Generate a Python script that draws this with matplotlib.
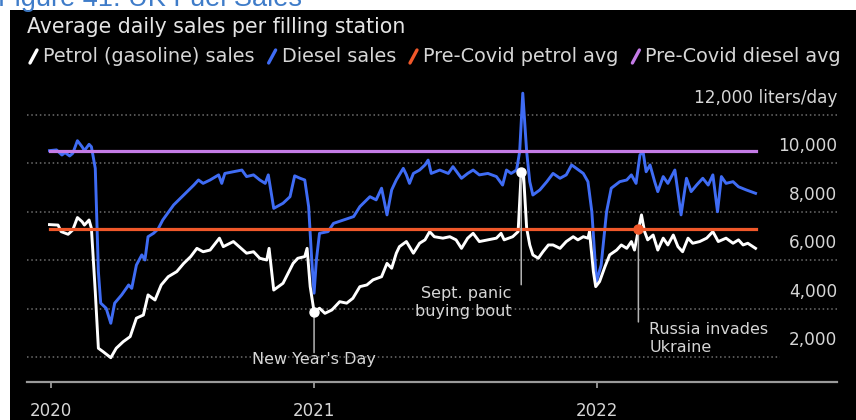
import matplotlib
matplotlib.use("Agg")
import matplotlib.pyplot as plt
import matplotlib.transforms as mtransforms
from matplotlib.lines import Line2D
from matplotlib.patches import Rectangle
import pandas as pd

# ---------------- data ----------------
diesel_dates = [
    "2020-01-26", "2020-02-04", "2020-02-11", "2020-02-15", "2020-02-21", "2020-02-25",
    "2020-03-02", "2020-03-08", "2020-03-11", "2020-03-17", "2020-03-20", "2020-03-25",
    "2020-03-29", "2020-04-01", "2020-04-08", "2020-04-14", "2020-04-19", "2020-04-28",
    "2020-05-07", "2020-05-11", "2020-05-17", "2020-05-24", "2020-05-28", "2020-06-01",
    "2020-06-08", "2020-06-14", "2020-06-20", "2020-07-04", "2020-07-17", "2020-07-30",
    "2020-08-05", "2020-08-11", "2020-08-20", "2020-08-31", "2020-09-04", "2020-09-08",
    "2020-09-19", "2020-09-30", "2020-10-06", "2020-10-15", "2020-10-23", "2020-10-30",
    "2020-11-03", "2020-11-10", "2020-11-22", "2020-12-01", "2020-12-07", "2020-12-14",
    "2020-12-20", "2020-12-25", "2020-12-29", "2021-01-01", "2021-01-04", "2021-01-08",
    "2021-01-19", "2021-01-26", "2021-02-08", "2021-02-21", "2021-03-01", "2021-03-14",
    "2021-03-22", "2021-03-29", "2021-04-05", "2021-04-11", "2021-04-17", "2021-04-26",
    "2021-04-30", "2021-05-04", "2021-05-09", "2021-05-17", "2021-05-24", "2021-05-28",
    "2021-06-01", "2021-06-12", "2021-06-23", "2021-06-29", "2021-07-10", "2021-07-18",
    "2021-07-25", "2021-08-02", "2021-08-13", "2021-08-24", "2021-09-01", "2021-09-06",
    "2021-09-12", "2021-09-19", "2021-09-23", "2021-09-27", "2021-10-02", "2021-10-06",
    "2021-10-10", "2021-10-19", "2021-10-28", "2021-11-05", "2021-11-14", "2021-11-22",
    "2021-11-29", "2021-12-05", "2021-12-14", "2021-12-20", "2021-12-25", "2021-12-31",
    "2022-01-06", "2022-01-13", "2022-01-19", "2022-01-30", "2022-02-08", "2022-02-14",
    "2022-02-20", "2022-02-25", "2022-03-01", "2022-03-05", "2022-03-10", "2022-03-16",
    "2022-03-20", "2022-03-27", "2022-04-02", "2022-04-11", "2022-04-19", "2022-04-26",
    "2022-05-02", "2022-05-09", "2022-05-17", "2022-05-24", "2022-05-30", "2022-06-05",
    "2022-06-10", "2022-06-16", "2022-06-25", "2022-07-02", "2022-07-12", "2022-07-24",
]
diesel_values = [
    10530, 10560, 10350, 10450, 10310, 10420,
    10940, 10690, 10530, 10790, 10690, 9800,
    5540, 4240, 4030, 3410, 4240, 4580,
    4990, 4850, 5810, 6230, 6020, 6980,
    7120, 7300, 7670, 8290, 8700, 9110,
    9320, 9180, 9320, 9530, 9180, 9590,
    9660, 9730, 9460, 9530, 9320, 9180,
    9530, 8150, 8360, 8630, 9490, 9390,
    9320, 8220, 6020, 4650, 6020, 7120,
    7190, 7530, 7670, 7810, 8220, 8630,
    8500, 8980, 7880, 8910, 9320, 9800,
    9530, 9180, 9590, 9730, 9940, 10140,
    9590, 9730, 9590, 9870, 9390, 9590,
    9730, 9530, 9590, 9460, 9110, 9730,
    9590, 9730, 10490, 12900, 10490, 9250,
    8700, 8910, 9250, 9590, 9390, 9530,
    9940, 9800, 9590, 9250, 8010, 5130,
    5810, 8010, 8980, 9250, 9320, 9530,
    9180, 10350, 10490, 9660, 9940, 9250,
    8840, 9460, 9180, 9730, 7880, 9390,
    8840, 9110, 9390, 9110, 9530, 8010,
    9460, 9180, 9250, 9040, 8910, 8770,
]

petrol_dates = [
    "2020-01-26", "2020-02-06", "2020-02-10", "2020-02-19", "2020-02-25", "2020-03-02",
    "2020-03-08", "2020-03-11", "2020-03-17", "2020-03-20", "2020-03-25", "2020-03-29",
    "2020-04-04", "2020-04-14", "2020-04-21", "2020-04-30", "2020-05-09", "2020-05-17",
    "2020-05-26", "2020-06-01", "2020-06-10", "2020-06-18", "2020-06-27", "2020-07-08",
    "2020-07-17", "2020-07-26", "2020-08-03", "2020-08-11", "2020-08-20", "2020-09-01",
    "2020-09-06", "2020-09-19", "2020-10-06", "2020-10-15", "2020-10-23", "2020-11-01",
    "2020-11-04", "2020-11-10", "2020-11-22", "2020-12-05", "2020-12-11", "2020-12-20",
    "2020-12-23", "2020-12-27", "2021-01-01", "2021-01-08", "2021-01-15", "2021-01-24",
    "2021-02-03", "2021-02-12", "2021-02-20", "2021-03-01", "2021-03-10", "2021-03-18",
    "2021-03-29", "2021-04-05", "2021-04-11", "2021-04-17", "2021-04-21", "2021-04-30",
    "2021-05-09", "2021-05-17", "2021-05-24", "2021-05-30", "2021-06-05", "2021-06-16",
    "2021-06-25", "2021-07-03", "2021-07-10", "2021-07-18", "2021-07-25", "2021-08-02",
    "2021-08-13", "2021-08-24", "2021-08-30", "2021-09-03", "2021-09-14", "2021-09-21",
    "2021-09-25", "2021-09-28", "2021-10-02", "2021-10-06", "2021-10-10", "2021-10-17",
    "2021-10-23", "2021-10-30", "2021-11-05", "2021-11-14", "2021-11-22", "2021-12-01",
    "2021-12-07", "2021-12-14", "2021-12-20", "2021-12-22", "2021-12-27", "2021-12-30",
    "2022-01-04", "2022-01-11", "2022-01-17", "2022-01-26", "2022-02-01", "2022-02-08",
    "2022-02-14", "2022-02-18", "2022-02-23", "2022-02-27", "2022-03-03", "2022-03-07",
    "2022-03-14", "2022-03-20", "2022-03-27", "2022-04-02", "2022-04-09", "2022-04-15",
    "2022-04-21", "2022-04-28", "2022-05-04", "2022-05-13", "2022-05-22", "2022-05-30",
    "2022-06-06", "2022-06-16", "2022-06-25", "2022-07-02", "2022-07-08", "2022-07-14",
    "2022-07-24",
]
petrol_values = [
    7480, 7460, 7190, 7080, 7260, 7770,
    7600, 7460, 7670, 7330, 4710, 2380,
    2240, 1990, 2380, 2650, 2860, 3620,
    3750, 4580, 4370, 4990, 5330, 5540,
    5880, 6160, 6500, 6360, 6430, 6920,
    6570, 6780, 6300, 6360, 6090, 6020,
    6500, 4780, 5060, 5880, 6090, 6160,
    6500, 4920, 3890, 4030, 3820, 3960,
    4300, 4240, 4440, 4920, 4990, 5200,
    5330, 5880, 5680, 6300, 6570, 6780,
    6300, 6710, 6850, 7190, 6980, 6920,
    6980, 6850, 6500, 6920, 7120, 6780,
    6850, 6920, 7120, 6850, 6980, 7190,
    9660, 9530, 7330, 6640, 6230, 6090,
    6360, 6640, 6640, 6500, 6780, 6980,
    6850, 6980, 6920, 7190, 5540, 4920,
    5130, 5750, 6230, 6430, 6640, 6500,
    6780, 6430, 7260, 7880, 7190, 6850,
    7050, 6430, 6920, 6640, 7050, 6570,
    6360, 6920, 6710, 6780, 6920, 7190,
    6780, 6920, 6710, 6850, 6640, 6710,
    6500,
]

precovid_petrol_avg = 7300
precovid_diesel_avg = 10500

series_labels = ["Petrol (gasoline) sales", "Diesel sales",
                 "Pre-Covid petrol avg", "Pre-Covid diesel avg"]
series_colors = ["#ffffff", "#3f6cf4", "#f0582a", "#c47be6"]

y_ticks = [2000, 4000, 6000, 8000, 10000, 12000]
y_tick_labels = ["2,000", "4,000", "6,000", "8,000", "10,000", "12,000 liters/day"]
x_tick_dates = ["2020-01-28", "2021-01-01", "2022-01-01"]
x_tick_labels = ["2020", "2021", "2022"]
x_limits = ["2019-12-28", "2022-11-06"]
y_limits = [1000, 13000]

annotation_dates = ["2021-01-01", "2021-09-25", "2022-02-23"]
annotation_values = [3890, 9660, 7300]
annotation_texts = ["New Year's Day", "Sept. panic\nbuying bout", "Russia invades\nUkraine"]
annotation_colors = ["#ffffff", "#ffffff", "#f0582a"]

title = "Average daily sales per filling station"
header = "Figure 41: UK Fuel Sales"

# ---------------- figure ----------------
W, H = 856, 420
fig = plt.figure(figsize=(W / 100, H / 100), dpi=100)
fig.patch.set_facecolor("white")


def fx(px):
    return px / W


def fy(py):
    return 1 - py / H


fig.add_artist(Rectangle((fx(10), 0), 1 - fx(10), fy(10), transform=fig.transFigure,
                         facecolor="black", edgecolor="none", zorder=0))

# header line of the page, only its lower part shows above the black panel
fig.text(fx(-2), fy(6.5), header, color="#3f7cc9", fontsize=19.5,
         family="Liberation Sans", ha="left", va="baseline", zorder=0.5)

TXT = "#d6d6d6"
fig.text(fx(27), fy(33), title, color="#e4e4e4", fontsize=14.8, ha="left", va="baseline")

ax = fig.add_axes([fx(27), fy(381.7), fx(837) - fx(27), fy(90.75) - fy(381.7)])
ax.set_facecolor("none")

d_dates = pd.to_datetime(diesel_dates)
p_dates = pd.to_datetime(petrol_dates)

ax.plot(d_dates, diesel_values, color=series_colors[1], lw=2.1, zorder=3,
        solid_joinstyle="round")
ax.plot(p_dates, petrol_values, color=series_colors[0], lw=2.1, zorder=4,
        solid_joinstyle="round")
span = [d_dates[0], d_dates[-1]]
ax.plot(span, [precovid_petrol_avg] * 2, color=series_colors[2], lw=2.3, zorder=5)
ax.plot(span, [precovid_diesel_avg] * 2, color=series_colors[3], lw=2.3, zorder=5)

ax.set_xlim(pd.to_datetime(x_limits))
ax.set_ylim(y_limits)

# gridlines
for v in y_ticks:
    ax.axhline(v, xmin=0, xmax=0.93 if v == y_ticks[0] else 1.0, color="#6e6e6e",
               lw=1.1, ls=(0, (1, 1.8)), zorder=1)

# y labels above the gridlines, right-aligned
ylab_trans = mtransforms.offset_copy(
    mtransforms.blended_transform_factory(ax.transAxes, ax.transData),
    fig=fig, x=0, y=12, units="dots")
for v, lab in zip(y_ticks, y_tick_labels):
    ax.text(1.0, v, lab, transform=ylab_trans, ha="right", va="baseline",
            color=TXT, fontsize=12.2)

ax.tick_params(axis="y", left=False, right=False, labelleft=False)
ax.set_xticks(pd.to_datetime(x_tick_dates))
ax.set_xticklabels(x_tick_labels)
ax.tick_params(axis="x", direction="out", length=4.3, width=1.3, color="#9a9a9a",
               pad=10.3, labelsize=12, labelcolor=TXT)
for s in ["top", "left", "right"]:
    ax.spines[s].set_visible(False)
ax.spines["bottom"].set_color("#9a9a9a")
ax.spines["bottom"].set_linewidth(1.6)

# annotations
a_dates = pd.to_datetime(annotation_dates)
line_len = [41, 113, 93]
text_off = [(0, -40.5, "center"), (-10, -114, "right"), (11, -93, "left")]
for d, v, t, c, L, (dx, dy, ha) in zip(a_dates, annotation_values, annotation_texts,
                                        annotation_colors, line_len, text_off):
    ax.annotate("", xy=(d, v), xytext=(0, -L), textcoords="offset pixels",
                arrowprops=dict(arrowstyle="-", color="#b4b4b4", lw=1.1,
                                shrinkA=0, shrinkB=0), zorder=6)
    ax.plot([d], [v], marker="o", ms=6.5, color=c, mec=c, zorder=7)
    ax.annotate(t, xy=(d, v), xytext=(dx, dy), textcoords="offset pixels",
                ha=ha, va="top", color=TXT, fontsize=11.5, linespacing=1.27,
                zorder=7)

# legend (manual, slash markers)
renderer = fig.canvas.get_renderer()
x = 30
for lab, col in zip(series_labels, series_colors):
    fig.add_artist(Line2D([fx(x), fx(x + 7)], [fy(63), fy(50)], transform=fig.transFigure,
                          color=col, lw=2.4, solid_capstyle="round"))
    t = fig.text(fx(x + 13), fy(62), lab, color=TXT, fontsize=13.9, ha="left",
                 va="baseline")
    bb = t.get_window_extent(renderer)
    x = bb.x1 + 14

fig.savefig("out.png", dpi=100, facecolor=fig.get_facecolor())
